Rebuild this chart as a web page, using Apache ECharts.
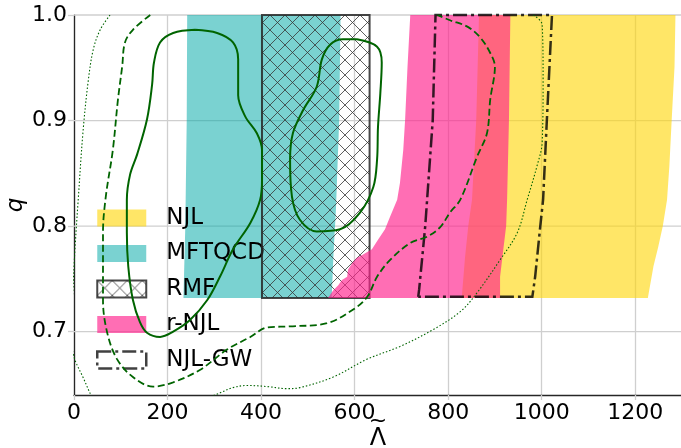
<!DOCTYPE html>
<html>
<head>
<meta charset="utf-8">
<script src="https://cdn.jsdelivr.net/npm/echarts@6/dist/echarts.min.js"></script>
<style>
  html, body { margin: 0; padding: 0; background: #fff; }
  #chart { width: 681px; height: 448px; }
</style>
</head>
<body>
<div id="chart"></div>
<script>
// Axis ticks
const xTicks = [0, 200, 400, 600, 800, 1000, 1200];
const yTicks = [0.7, 0.8, 0.9, 1.0];

// Legend entries, in drawing order of the bands
const bandNames = ['NJL', 'MFTQCD', 'RMF', 'r-NJL', 'NJL-GW'];

// Allowed (Lambda~, q) regions for each model: polygon boundaries
const njlBand = [
  [829, 0.732], [836, 0.77], [843, 0.80], [851, 0.825], [860, 0.90], [866, 1.0],
  [1286, 1.0], [1284, 0.951], [1278, 0.901], [1273, 0.857], [1268, 0.825],
  [1259, 0.80], [1249, 0.78], [1239, 0.762], [1227, 0.732]
];
const mftqcdBand = [
  [234, 0.732], [238, 0.80], [241, 0.90], [242, 1.0],
  [570, 1.0], [567, 0.90], [560, 0.815], [555, 0.775], [551, 0.732]
];
const rmfBand = [[402, 0.732], [402, 1.0], [632, 1.0], [632, 0.732]];
const rnjlBand = [
  [543, 0.732], [554, 0.739], [565, 0.744], [573, 0.749], [584, 0.752], [586, 0.759],
  [595, 0.765], [605, 0.770], [618, 0.773], [637, 0.778], [650, 0.787], [665, 0.797],
  [676, 0.809], [691, 0.825], [697, 0.841], [704, 0.872], [708, 0.901], [713, 0.95],
  [719, 1.0],
  [933, 1.0], [930, 0.90], [926, 0.825], [924, 0.80], [918, 0.778], [911, 0.752], [911, 0.732]
];
const njlGwBand = [
  [736, 0.733], [738, 0.74], [751, 0.80], [767, 0.90], [773, 1.0],
  [1022, 1.0], [1011, 0.90], [1003, 0.825], [997, 0.80], [986, 0.752], [980, 0.733], [736, 0.733]
];

// Posterior credible contours
const contourInnerLeft = [
  [259, 0.986], [306, 0.983], [340, 0.974], [351, 0.958], [351, 0.924], [366, 0.904],
  [391, 0.888], [402, 0.872], [402, 0.844], [398, 0.825], [377, 0.803], [340, 0.778],
  [312, 0.752], [285, 0.730], [248, 0.711], [212, 0.700], [184, 0.695], [156, 0.699],
  [141, 0.709], [126, 0.730], [116, 0.762], [113, 0.794], [113, 0.825], [120, 0.849],
  [135, 0.868], [156, 0.901], [167, 0.934], [171, 0.955], [184, 0.974], [212, 0.983],
  [259, 0.986]
];
const contourInnerRight = [
  [605, 0.977], [648, 0.970], [658, 0.955], [655, 0.926], [650, 0.894], [648, 0.863],
  [640, 0.837], [612, 0.813], [569, 0.797], [519, 0.795], [483, 0.806], [466, 0.828],
  [462, 0.863], [468, 0.888], [490, 0.910], [519, 0.932], [530, 0.958], [548, 0.972],
  [575, 0.977], [605, 0.977]
];
const contourMiddle = [
  [163, 1.0], [126, 0.986], [109, 0.974], [103, 0.951], [94, 0.920], [83, 0.872],
  [68, 0.828], [62, 0.794], [62, 0.730], [71, 0.699], [92, 0.674], [126, 0.657],
  [169, 0.648], [212, 0.652], [270, 0.664], [327, 0.683], [377, 0.695], [413, 0.704],
  [462, 0.705], [541, 0.708], [597, 0.721], [627, 0.733], [648, 0.752], [676, 0.768],
  [719, 0.784], [755, 0.790], [783, 0.799], [804, 0.813], [826, 0.825], [862, 0.866],
  [883, 0.888], [890, 0.920], [900, 0.951], [890, 0.964], [868, 0.979], [841, 0.989],
  [804, 0.995], [777, 1.0]
];
const contourOuterLeft = [
  [77, 1.0], [56, 0.986], [41, 0.967], [30, 0.936], [19, 0.888], [9, 0.825],
  [2, 0.778], [-4, 0.730], [-12, 0.700]
];
const contourOuterCorner = [
  [-10, 0.695], [0, 0.676], [6, 0.669], [19, 0.657], [34, 0.642], [41, 0.636]
];
const contourOuterRight = [
  [982, 1.0], [1001, 0.991], [1003, 0.939], [1001, 0.879], [990, 0.857], [969, 0.825],
  [948, 0.794], [911, 0.768], [862, 0.737], [826, 0.719], [768, 0.702], [697, 0.686],
  [627, 0.674], [554, 0.657], [483, 0.647], [456, 0.646], [413, 0.648], [370, 0.649],
  [340, 0.647], [312, 0.642], [280, 0.636]
];

const FONT = 'DejaVu Sans';

// Cross-hatch tile for the RMF band
function makeHatch() {
  const s = 15;
  const c = document.createElement('canvas');
  c.width = s; c.height = s;
  const g = c.getContext('2d');
  g.strokeStyle = 'rgba(55,55,55,0.8)';
  g.lineWidth = 1;
  g.beginPath();
  g.moveTo(-1, -1); g.lineTo(s + 1, s + 1);
  g.moveTo(s + 1, -1); g.lineTo(-1, s + 1);
  g.stroke();
  return { image: c, repeat: 'repeat' };
}
const hatch = makeHatch();

const gwDash = [14, 4, 3, 4];
const bandStyles = {
  'NJL':    { fill: 'rgba(255,214,10,0.62)', stroke: null },
  'MFTQCD': { fill: 'rgba(0,168,166,0.52)', stroke: null },
  'RMF':    { fill: hatch, stroke: 'rgba(40,40,40,0.85)', lineWidth: 2 },
  'r-NJL':  { fill: 'rgba(255,32,140,0.65)', stroke: null },
  'NJL-GW': { fill: null, stroke: 'rgba(0,0,0,0.8)', lineWidth: 2.5, lineDash: gwDash }
};
const bandData = {
  'NJL': njlBand, 'MFTQCD': mftqcdBand, 'RMF': rmfBand, 'r-NJL': rnjlBand, 'NJL-GW': njlGwBand
};

function bandSeries(name, z) {
  const st = bandStyles[name];
  return {
    type: 'custom',
    name: name,
    z: z,
    data: bandData[name],
    itemStyle: {
      color: st.fill || 'rgba(0,0,0,0)',
      borderColor: st.stroke || 'rgba(0,0,0,0)',
      borderWidth: st.lineWidth || 0,
      borderType: st.lineDash || 'solid'
    },
    renderItem: function (params, api) {
      if (params.dataIndex !== 0) return null;
      const pts = bandData[name].map(p => api.coord(p));
      if (name === 'NJL-GW') {
        return {
          type: 'polyline',
          shape: { points: pts },
          style: { fill: null, stroke: st.stroke, lineWidth: st.lineWidth, lineDash: st.lineDash }
        };
      }
      return {
        type: 'polygon',
        shape: { points: pts },
        style: {
          fill: st.fill,
          stroke: st.stroke || null,
          lineWidth: st.lineWidth || 0
        }
      };
    }
  };
}

function contour(data, width, dash) {
  return {
    type: 'line',
    data: data,
    smooth: 0.35,
    symbol: 'none',
    z: 10,
    silent: true,
    clip: true,
    lineStyle: { color: '#006400', width: width, type: dash }
  };
}

// Horizontal grid lines at the q ticks
const yGridSeries = {
  type: 'custom',
  z: 1,
  silent: true,
  data: yTicks,
  renderItem: function (params, api) {
    const q = api.value(0);
    const a = api.coord([0, q]);
    const b = api.coord([1300, q]);
    return {
      type: 'line',
      shape: { x1: a[0], y1: a[1], x2: b[0], y2: b[1] },
      style: { stroke: '#cfcfcf', lineWidth: 1.3 }
    };
  },
  encode: { y: 0 }
};

const chart = echarts.init(document.getElementById('chart'), null, { renderer: 'canvas' });
chart.setOption({
  animation: false,
  backgroundColor: '#ffffff',
  grid: { left: 74, top: 15, width: 608, height: 380, containLabel: false, outerBoundsMode: 'none' },
  xAxis: {
    type: 'value',
    min: 0, max: 1300, interval: 200,
    name: '{t|~}\n{l|Λ}',
    nameLocation: 'middle',
    nameGap: 21,
    nameMoveOverlap: false,
    nameTextStyle: {
      fontFamily: FONT, color: '#000', align: 'center', verticalAlign: 'top',
      rich: {
        t: { fontFamily: FONT, fontSize: 22, lineHeight: 11, color: '#000', align: 'center' },
        l: { fontFamily: FONT, fontSize: 24, lineHeight: 24, color: '#000', align: 'center' }
      }
    },
    axisLine: { show: true, onZero: false, lineStyle: { color: '#262626', width: 1.3 } },
    axisTick: { show: true, length: 5, lineStyle: { color: '#cfcfcf', width: 1.3 } },
    axisLabel: {
      fontFamily: FONT, fontSize: 22, color: '#000', margin: 7,
      showMaxLabel: false,
      formatter: v => (xTicks.indexOf(v) >= 0 ? String(v) : '')
    },
    splitLine: { show: true, lineStyle: { color: '#cfcfcf', width: 1.3 } }
  },
  yAxis: {
    type: 'value',
    min: 0.64, max: 1.0,
    name: 'q',
    nameLocation: 'middle',
    nameGap: 46,
    nameMoveOverlap: false,
    nameTextStyle: { fontFamily: FONT, fontSize: 23, fontStyle: 'italic', color: '#000' },
    axisLine: { show: true, onZero: false, lineStyle: { color: '#262626', width: 1.3 } },
    axisTick: { show: true, length: 6, customValues: yTicks, lineStyle: { color: '#cfcfcf', width: 1.3 } },
    axisLabel: {
      fontFamily: FONT, fontSize: 22, color: '#000', margin: 7,
      customValues: yTicks,
      formatter: v => v.toFixed(1)
    },
    splitLine: { show: false }
  },
  legend: {
    data: bandNames.map(n => n === 'NJL-GW'
      ? { name: n, itemStyle: { color: 'rgba(0,0,0,0)', borderColor: 'rgba(0,0,0,0.75)', borderWidth: 2.5, borderType: gwDash } }
      : { name: n }),
    orient: 'vertical',
    left: 91, top: 201.5,
    itemWidth: 49, itemHeight: 17, itemGap: 12.5,
    icon: 'rect',
    selectedMode: false,
    textStyle: { fontFamily: FONT, fontSize: 23, color: '#000', padding: [0, 0, 0, 15] }
  },
  series: [
    yGridSeries,
    bandSeries('NJL', 2),
    bandSeries('MFTQCD', 3),
    bandSeries('RMF', 4),
    bandSeries('r-NJL', 5),
    bandSeries('NJL-GW', 6),
    contour(contourInnerLeft, 2, 'solid'),
    contour(contourInnerRight, 2, 'solid'),
    contour(contourMiddle, 1.8, [7, 3.5]),
    contour(contourOuterLeft, 1.1, [1.5, 2]),
    contour(contourOuterCorner, 1.1, [1.5, 2]),
    contour(contourOuterRight, 1.1, [1.5, 2])
  ]
});
</script>
</body>
</html>
